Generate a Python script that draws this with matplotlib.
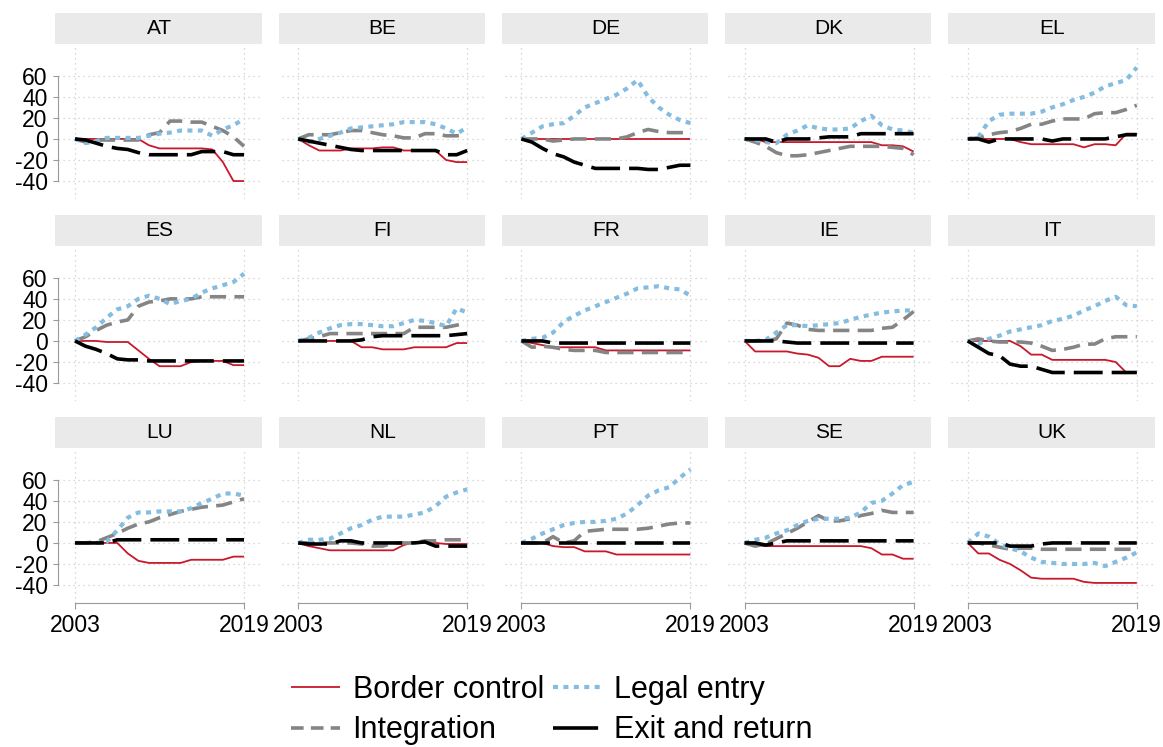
import matplotlib
matplotlib.use("Agg")
import matplotlib.pyplot as plt
from matplotlib.patches import Rectangle
from matplotlib.lines import Line2D

plt.rcParams['font.family'] = ['Liberation Sans', 'DejaVu Sans']
plt.rcParams['axes.unicode_minus'] = False

# ---------------- data ----------------
years = list(range(2003, 2020))
countries = ["AT", "BE", "DE", "DK", "EL",
             "ES", "FI", "FR", "IE", "IT",
             "LU", "NL", "PT", "SE", "UK"]
series_labels = ["Border control", "Integration", "Legal entry", "Exit and return"]
x_ticks = [2003, 2019]
y_ticks = [-40, -20, 0, 20, 40, 60]

border_control = {
    "AT": [0, 0, 0, 0, 0, 0, 0, -6, -9, -9, -9, -9, -9, -10, -22, -40, -40],
    "BE": [0, -6, -11, -11, -11, -9, -9, -9, -8, -8, -11, -11, -11, -11, -20, -22, -22],
    "DE": [0, 0, 0, 0, 0, 0, 0, 0, 0, 0, 0, 0, 0, 0, 0, 0, 0],
    "DK": [0, 0, -3, -3, -3, -3, -3, -3, -3, -3, -3, -3, -3, -6, -6, -7, -12],
    "EL": [0, 0, 0, 0, 0, -3, -5, -5, -5, -5, -5, -8, -5, -5, -6, 5, 5],
    "ES": [0, 0, 0, -1, -1, -1, -9, -17, -24, -24, -24, -20, -19, -19, -19, -23, -23],
    "FI": [0, 0, 0, 0, 0, 0, -6, -6, -8, -8, -8, -6, -6, -6, -6, -2, -2],
    "FR": [0, -2, -4, -6, -6, -6, -6, -6, -9, -9, -9, -9, -9, -9, -9, -9, -9],
    "IE": [0, -10, -10, -10, -10, -12, -13, -16, -24, -24, -17, -19, -19, -15, -15, -15, -15],
    "IT": [0, 0, 0, 0, 0, -5, -13, -13, -18, -18, -18, -18, -18, -18, -20, -30, -30],
    "LU": [0, 0, 0, 0, 0, -10, -17, -19, -19, -19, -19, -16, -16, -16, -16, -13, -13],
    "NL": [0, -3, -5, -7, -7, -7, -7, -7, -7, -7, -2, 1, 0, 0, -1, -1, -1],
    "PT": [0, 0, 0, -3, -4, -4, -8, -8, -8, -11, -11, -11, -11, -11, -11, -11, -11],
    "SE": [0, -2, -3, -3, -3, -3, -3, -3, -3, -3, -3, -3, -5, -11, -11, -15, -15],
    "UK": [0, -10, -10, -16, -20, -26, -33, -34, -34, -34, -34, -37, -38, -38, -38, -38, -38],
}
integration = {
    "AT": [0, -3, -1, -1, -1, -1, -1, 4, 6, 17, 17, 16, 16, 12, 8, 2, -7],
    "BE": [0, 4, 4, 4, 6, 8, 8, 6, 4, 3, 1, 1, 5, 5, 3, 3, 4],
    "DE": [0, 0, 0, -2, -1, 0, 0, 0, 0, 0, 2, 6, 9, 7, 6, 6, 6],
    "DK": [0, -3, -7, -13, -16, -16, -15, -13, -11, -9, -7, -7, -7, -7, -8, -9, -15],
    "EL": [0, 1, 4, 6, 7, 10, 14, 14, 17, 19, 19, 19, 24, 25, 25, 28, 32],
    "ES": [0, 4, 10, 15, 18, 20, 33, 37, 38, 40, 40, 40, 42, 42, 42, 42, 42],
    "FI": [0, 2, 4, 7, 7, 7, 7, 7, 7, 7, 7, 13, 13, 13, 13, 15, 17],
    "FR": [0, -6, -5, -6, -8, -9, -9, -9, -11, -11, -11, -11, -11, -11, -11, -11, -11],
    "IE": [0, 0, 0, 2, 17, 15, 11, 10, 10, 10, 10, 10, 10, 12, 13, 20, 28],
    "IT": [0, 2, 0, -1, -1, -1, -2, -5, -9, -8, -6, -3, -3, 2, 4, 4, 4],
    "LU": [0, 0, 1, 5, 9, 14, 18, 20, 24, 27, 30, 32, 34, 35, 36, 39, 42],
    "NL": [0, 0, 0, 0, 0, 0, -1, -3, -3, 0, 0, 0, 2, 2, 3, 3, 3],
    "PT": [0, 0, 0, 6, 0, 2, 11, 12, 13, 13, 13, 13, 14, 16, 18, 19, 19],
    "SE": [0, -3, -1, 4, 9, 14, 20, 26, 21, 21, 23, 26, 28, 31, 29, 29, 29],
    "UK": [0, 0, -2, -4, -6, -5, -5, -6, -6, -6, -6, -6, -6, -6, -6, -6, -6],
}
legal_entry = {
    "AT": [0, -4, -2, 1, 1, 1, 1, 3, 5, 6, 8, 8, 8, 3, 9, 13, 19],
    "BE": [0, -3, 0, 3, 6, 10, 11, 12, 13, 14, 16, 16, 16, 14, 10, 5, 11],
    "DE": [0, 6, 12, 14, 15, 22, 30, 34, 38, 42, 48, 56, 40, 30, 23, 18, 15],
    "DK": [0, -1, -3, -4, 4, 8, 13, 10, 9, 9, 10, 17, 22, 13, 9, 8, 6],
    "EL": [0, 2, 17, 23, 24, 24, 24, 26, 30, 33, 37, 40, 44, 50, 53, 56, 68],
    "ES": [0, 6, 13, 22, 30, 33, 40, 43, 40, 35, 38, 40, 46, 50, 53, 56, 64],
    "FI": [0, 3, 8, 12, 15, 16, 16, 15, 14, 14, 17, 20, 19, 17, 14, 31, 27],
    "FR": [0, 2, 3, 8, 18, 24, 29, 33, 37, 41, 45, 50, 51, 52, 50, 49, 43],
    "IE": [0, 0, 1, 8, 15, 15, 14, 15, 16, 17, 20, 23, 25, 27, 28, 29, 29],
    "IT": [0, -3, 2, 5, 9, 11, 13, 15, 19, 21, 24, 29, 33, 38, 42, 34, 33],
    "LU": [0, 0, 0, 1, 12, 24, 29, 29, 30, 30, 30, 33, 38, 42, 47, 47, 45],
    "NL": [0, 3, 3, 4, 9, 14, 17, 22, 25, 25, 25, 27, 29, 35, 44, 48, 51],
    "PT": [0, 4, 9, 13, 17, 19, 20, 20, 21, 23, 28, 36, 45, 50, 53, 62, 70],
    "SE": [0, 3, 5, 9, 12, 17, 21, 23, 23, 23, 24, 29, 38, 40, 47, 55, 58],
    "UK": [0, 9, 6, -1, -5, -8, -14, -18, -19, -20, -20, -20, -19, -22, -18, -14, -9],
}
exit_return = {
    "AT": [0, -1, -4, -7, -9, -10, -13, -15, -15, -15, -15, -15, -12, -12, -12, -15, -15],
    "BE": [0, -2, -4, -6, -8, -10, -11, -11, -11, -11, -11, -11, -11, -11, -15, -15, -11],
    "DE": [0, -3, -9, -14, -17, -22, -25, -28, -28, -28, -28, -28, -29, -29, -27, -25, -25],
    "DK": [0, 0, 0, -3, 0, 0, 0, 1, 2, 2, 2, 5, 5, 5, 5, 5, 5],
    "EL": [0, 0, -3, 0, 0, 0, 0, 0, -2, 0, 0, 0, 0, 0, 2, 4, 4],
    "ES": [0, -5, -8, -12, -17, -18, -18, -19, -19, -19, -19, -19, -19, -19, -19, -19, -19],
    "FI": [0, 0, 0, 0, 0, 0, 1, 4, 5, 5, 5, 5, 5, 5, 5, 6, 7],
    "FR": [0, 0, 0, -2, -2, -2, -2, -2, -2, -2, -2, -2, -2, -2, -2, -2, -2],
    "IE": [0, 0, 0, 0, -1, -2, -2, -2, -2, -2, -2, -2, -2, -2, -2, -2, -2],
    "IT": [0, -6, -12, -14, -22, -24, -24, -27, -30, -30, -30, -30, -30, -30, -30, -30, -30],
    "LU": [0, 0, 0, 0, 3, 3, 3, 3, 3, 3, 3, 3, 3, 3, 3, 3, 3],
    "NL": [0, -1, -1, -1, 2, 2, 0, 0, 0, 0, 0, 0, 1, -3, -3, -3, -3],
    "PT": [0, 0, 0, 0, 0, 0, 0, 0, 0, 0, 0, 0, 0, 0, 0, 0, 0],
    "SE": [0, 0, -2, 0, 2, 2, 2, 2, 2, 2, 2, 2, 2, 2, 2, 2, 2],
    "UK": [0, 0, 0, 0, -3, -3, -3, -1, 0, 0, 0, 0, 0, 0, 0, 0, 0],
}

# ---------------- styles ----------------
styles = [
    dict(color="#c9182b", lw=1.3, linestyle="-"),
    dict(color="#858585", lw=2.6, linestyle=(0, (4.5, 2.3))),
    dict(color="#85bde0", lw=3.0, linestyle=(0, (1.2, 1.3))),
    dict(color="black", lw=2.6, linestyle=(0, (8, 2.5))),
]
legend_styles = [
    dict(color="#c9182b", lw=1.3, linestyle="-"),
    dict(color="#858585", lw=2.6, linestyle=(0, (3.5, 2.0))),
    dict(color="#85bde0", lw=3.0, linestyle=(0, (1.2, 1.3))),
    dict(color="black", lw=2.6, linestyle=(0, (12.5, 40))),
]
series = [border_control, integration, legal_entry, exit_return]

W, H = 1163, 747
fig = plt.figure(figsize=(W / 100, H / 100), dpi=100)

col_left = [58.3 + i * 223.2 for i in range(5)]
ax_w = 202.4
row_top = [47 + r * 202 for r in range(3)]
ax_h = 151.7
axis_col = "#9a9a9a"

for idx, c in enumerate(countries):
    r, k = divmod(idx, 5)
    left = col_left[k] / W
    bottom = 1 - (row_top[r] + ax_h) / H
    ax = fig.add_axes([left, bottom, ax_w / W, ax_h / H])
    ax.set_xlim(2001.42, 2020.58)
    ax.set_ylim(-56.8, 87.4)
    ax.set_xticks(x_ticks)
    ax.set_yticks(y_ticks)
    ax.grid(True, color="#cdcdcd", linestyle=(0, (1, 3)), linewidth=0.9)
    ax.set_axisbelow(True)
    for s in ax.spines.values():
        s.set_visible(False)
    if k == 0:
        ax.spines["left"].set_visible(True)
        ax.spines["left"].set_bounds(-40, 60)
        ax.spines["left"].set_color(axis_col)
    if r == 2:
        ax.spines["bottom"].set_visible(True)
        ax.spines["bottom"].set_bounds(2003, 2019)
        ax.spines["bottom"].set_color(axis_col)
    ax.tick_params(axis="y", left=(k == 0), labelleft=(k == 0), length=3.6,
                   color=axis_col, labelsize=16.5, pad=4)
    ax.tick_params(axis="x", bottom=(r == 2), labelbottom=(r == 2), length=4.2,
                   color=axis_col, labelsize=16.5, pad=4)
    for data, st in zip(series, styles):
        ax.plot(years, data[c], solid_capstyle="butt", dash_capstyle="butt", **st)

    # strip header
    top_px = row_top[r] - 34
    fig.patches.append(Rectangle((left - 3 / W, 1 - (top_px + 31) / H), (ax_w + 4) / W, 31 / H,
                                 transform=fig.transFigure, facecolor="#eaeaea",
                                 edgecolor="none", zorder=0))
    fig.text(left + ax_w / W / 2, 1 - (top_px + 15.5) / H, c, ha="center", va="center",
             fontsize=15)

handles = [Line2D([], [], solid_capstyle="butt", dash_capstyle="butt", **st)
           for st in legend_styles]
fig.legend(handles, series_labels, loc="center", bbox_to_anchor=(552 / W, 1 - 710 / H),
           ncol=2, frameon=False, fontsize=22, handlelength=1.6, handletextpad=0.4,
           columnspacing=0.3, labelspacing=0.35, borderpad=0)

fig.savefig("out.png", dpi=100)
